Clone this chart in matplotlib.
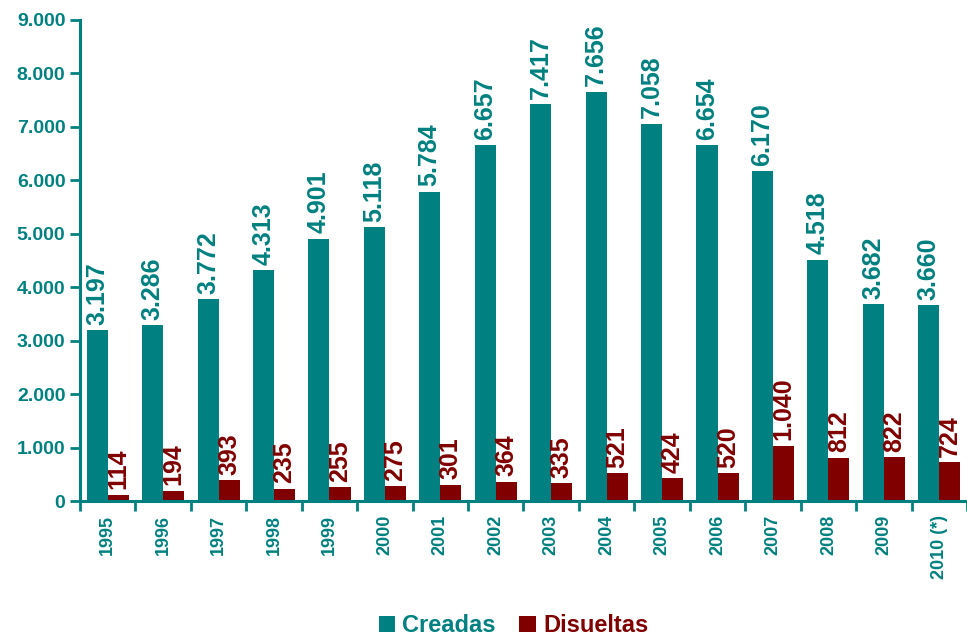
import matplotlib
matplotlib.use("Agg")
import matplotlib.pyplot as plt
import numpy as np
from matplotlib.ticker import FuncFormatter, FixedLocator

TEAL = "#008080"
DARK_RED = "#800000"

years = ["1995", "1996", "1997", "1998", "1999", "2000", "2001", "2002",
         "2003", "2004", "2005", "2006", "2007", "2008", "2009", "2010 (*)"]
creadas = [3197, 3286, 3772, 4313, 4901, 5118, 5784, 6657,
           7417, 7656, 7058, 6654, 6170, 4518, 3682, 3660]
disueltas = [114, 194, 393, 235, 255, 275, 301, 364,
             335, 521, 424, 520, 1040, 812, 822, 724]

plt.rcParams['font.family'] = ['Liberation Sans', 'DejaVu Sans']


def miles(v):
    # thousands separated by a dot, Spanish style
    return f"{int(v):,}".replace(",", ".")


fig = plt.figure(figsize=(9.67, 6.4), dpi=100)
ax = fig.add_axes([0.0827, 0.217, 0.9173, 0.752])

x = np.arange(len(years))
w = 0.38
b1 = ax.bar(x - w / 2, creadas, w, color=TEAL, label="Creadas")
b2 = ax.bar(x + w / 2, disueltas, w, color=DARK_RED, label="Disueltas")

for bar, v in zip(b1, creadas):
    ax.annotate(miles(v), (bar.get_x() + bar.get_width() / 2, bar.get_height()),
                xytext=(0, 4), textcoords="offset points", rotation=90,
                ha="center", va="bottom", fontsize=18, fontweight="bold", color=TEAL)
for bar, v in zip(b2, disueltas):
    ax.annotate(miles(v), (bar.get_x() + bar.get_width() / 2, bar.get_height()),
                xytext=(0, 4), textcoords="offset points", rotation=90,
                ha="center", va="bottom", fontsize=18, fontweight="bold", color=DARK_RED)

ax.set_xlim(-0.5, len(years) - 0.5)
ax.set_ylim(0, 9000)
ax.set_yticks(np.arange(0, 9001, 1000))
ax.yaxis.set_major_formatter(FuncFormatter(lambda v, p: miles(v)))

# category labels centred, tick marks between groups
ax.set_xticks(x)
ax.set_xticklabels(years, rotation=90, fontsize=13, fontweight="bold", color=TEAL)
ax.xaxis.set_minor_locator(FixedLocator(np.arange(-0.5, len(years), 1)))
ax.tick_params(axis="x", which="major", length=0, pad=10)
ax.tick_params(axis="x", which="minor", length=7, width=2, color=TEAL)
ax.tick_params(axis="y", length=7, width=2, color=TEAL, labelcolor=TEAL, labelsize=14)
for lab in ax.get_yticklabels():
    lab.set_fontweight("bold")

for s in ["top", "right"]:
    ax.spines[s].set_visible(False)
for s in ["left", "bottom"]:
    ax.spines[s].set_color(TEAL)
    ax.spines[s].set_linewidth(2.2)

leg = fig.legend(handles=[b1, b2], loc="center", bbox_to_anchor=(0.531, 0.022),
                 ncol=2, frameon=False, fontsize=17, handlelength=0.7, handleheight=0.7,
                 handletextpad=0.3, columnspacing=1.0)
for t, c in zip(leg.get_texts(), [TEAL, DARK_RED]):
    t.set_color(c)
    t.set_fontweight("bold")

fig.savefig("out.png", dpi=100)
